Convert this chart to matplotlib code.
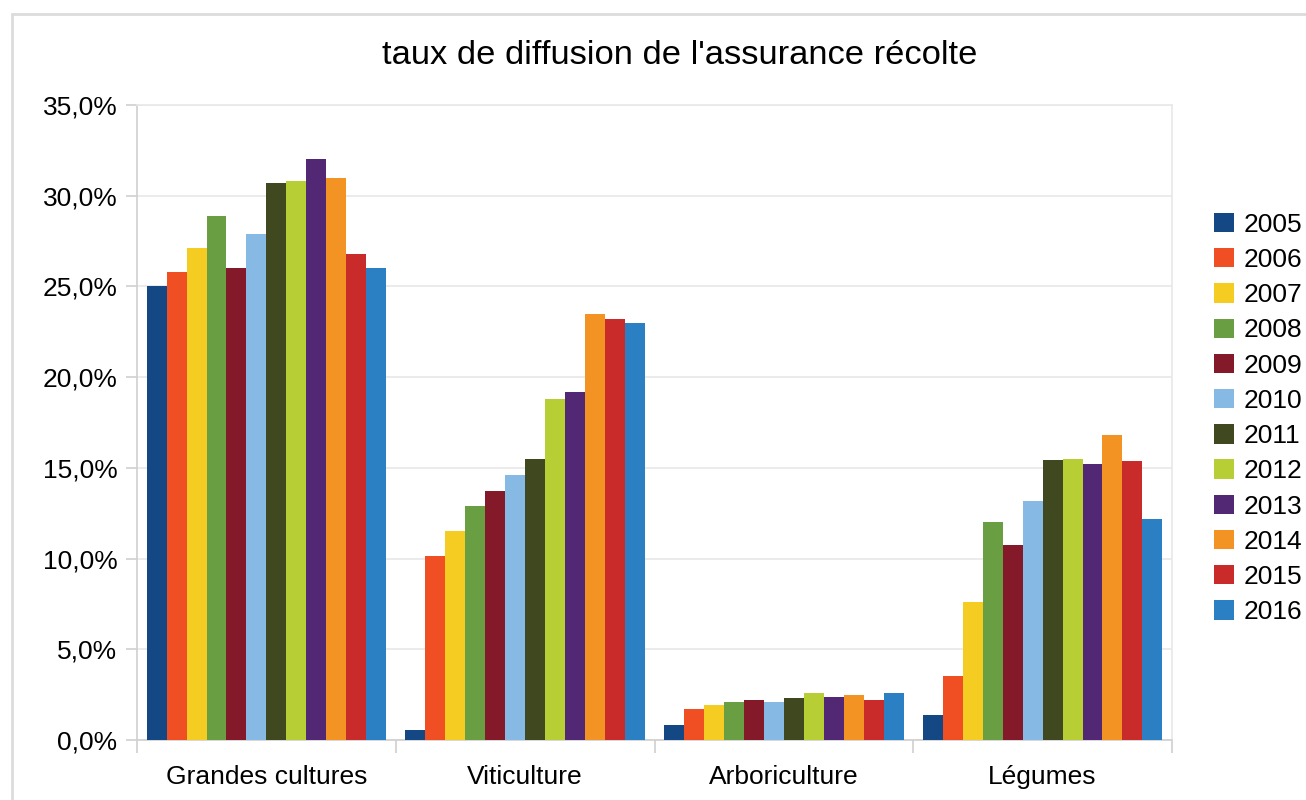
import numpy as np
import matplotlib
matplotlib.use("Agg")
import matplotlib.pyplot as plt
from matplotlib.patches import Rectangle
from matplotlib.ticker import FuncFormatter, MultipleLocator

plt.rcParams['font.family'] = ['Liberation Sans', 'DejaVu Sans']

# Data (percent)
categories = ["Grandes cultures", "Viticulture", "Arboriculture", "Légumes"]
years = ["2005", "2006", "2007", "2008", "2009", "2010",
         "2011", "2012", "2013", "2014", "2015", "2016"]
grandes_cultures = [25.0, 25.8, 27.1, 28.9, 26.0, 27.9, 30.7, 30.8, 32.0, 31.0, 26.8, 26.0]
viticulture = [0.55, 10.15, 11.5, 12.9, 13.7, 14.6, 15.5, 18.8, 19.2, 23.5, 23.2, 23.0]
arboriculture = [0.8, 1.7, 1.95, 2.1, 2.2, 2.1, 2.3, 2.6, 2.35, 2.5, 2.2, 2.6]
legumes = [1.4, 3.55, 7.6, 12.0, 10.75, 13.15, 15.45, 15.5, 15.2, 16.8, 15.4, 12.2]
colors = ["#134885", "#f04e23", "#f5cd22", "#6a9e42", "#841a29", "#86b9e3",
          "#40481f", "#b7cf35", "#522773", "#f29323", "#c92b2b", "#2a80c2"]

values = np.array([grandes_cultures, viticulture, arboriculture, legumes])

fig = plt.figure(figsize=(13.06, 8), dpi=100)
ax = fig.add_axes([137 / 1306, 1 - 740 / 800, (1172 - 137) / 1306, (740 - 105) / 800])

# outer chart frame (cropped at right and bottom)
fig.patches.append(Rectangle((12 / 1306, -0.1), 1.2, 1 - 14 / 800 + 0.1,
                             transform=fig.transFigure, fill=False,
                             edgecolor="#dcdcdc", linewidth=2))

n = len(years)
group_w = 0.925
w = group_w / n
x = np.arange(len(categories))
for i, year in enumerate(years):
    ax.bar(x - group_w / 2 + w * (i + 0.5), values[:, i], width=w,
           color=colors[i], label=year, zorder=3, linewidth=0)

ax.set_xlim(-0.5, len(categories) - 0.5)
ax.set_ylim(0, 35)
ax.yaxis.set_major_locator(MultipleLocator(5))
ax.yaxis.set_major_formatter(FuncFormatter(lambda v, p: f"{v:.1f}%".replace(".", ",")))
ax.grid(axis="y", color="#e8e8e8", linewidth=1.2, zorder=0)

ax.set_xticks(x)
ax.set_xticklabels(categories)
ax.set_xticks(np.arange(-0.5, len(categories)), minor=True)
ax.tick_params(axis="x", which="major", length=0, pad=18, labelsize=19)
ax.tick_params(axis="x", which="minor", length=9, color="#d0d0d0", width=1.2)
ax.tick_params(axis="y", length=8, color="#d0d0d0", width=1.2, pad=6, labelsize=19)

for side in ["left", "bottom"]:
    ax.spines[side].set_color("#d0d0d0")
    ax.spines[side].set_linewidth(1.2)
for side in ["right", "top"]:
    ax.spines[side].set_color("#e8e8e8")
    ax.spines[side].set_linewidth(1.2)

fig.text(680 / 1306, 1 - 56 / 800, "taux de diffusion de l'assurance récolte",
         ha="center", va="center", fontsize=24.8)

fig.legend(loc="center left", bbox_to_anchor=(1214 / 1306, 1 - 418.5 / 800),
           frameon=False, fontsize=19, borderpad=0, borderaxespad=0,
           handlelength=0.75, handleheight=0.75, handletextpad=0.38,
           labelspacing=0.425)

fig.savefig("out.png", dpi=100)
